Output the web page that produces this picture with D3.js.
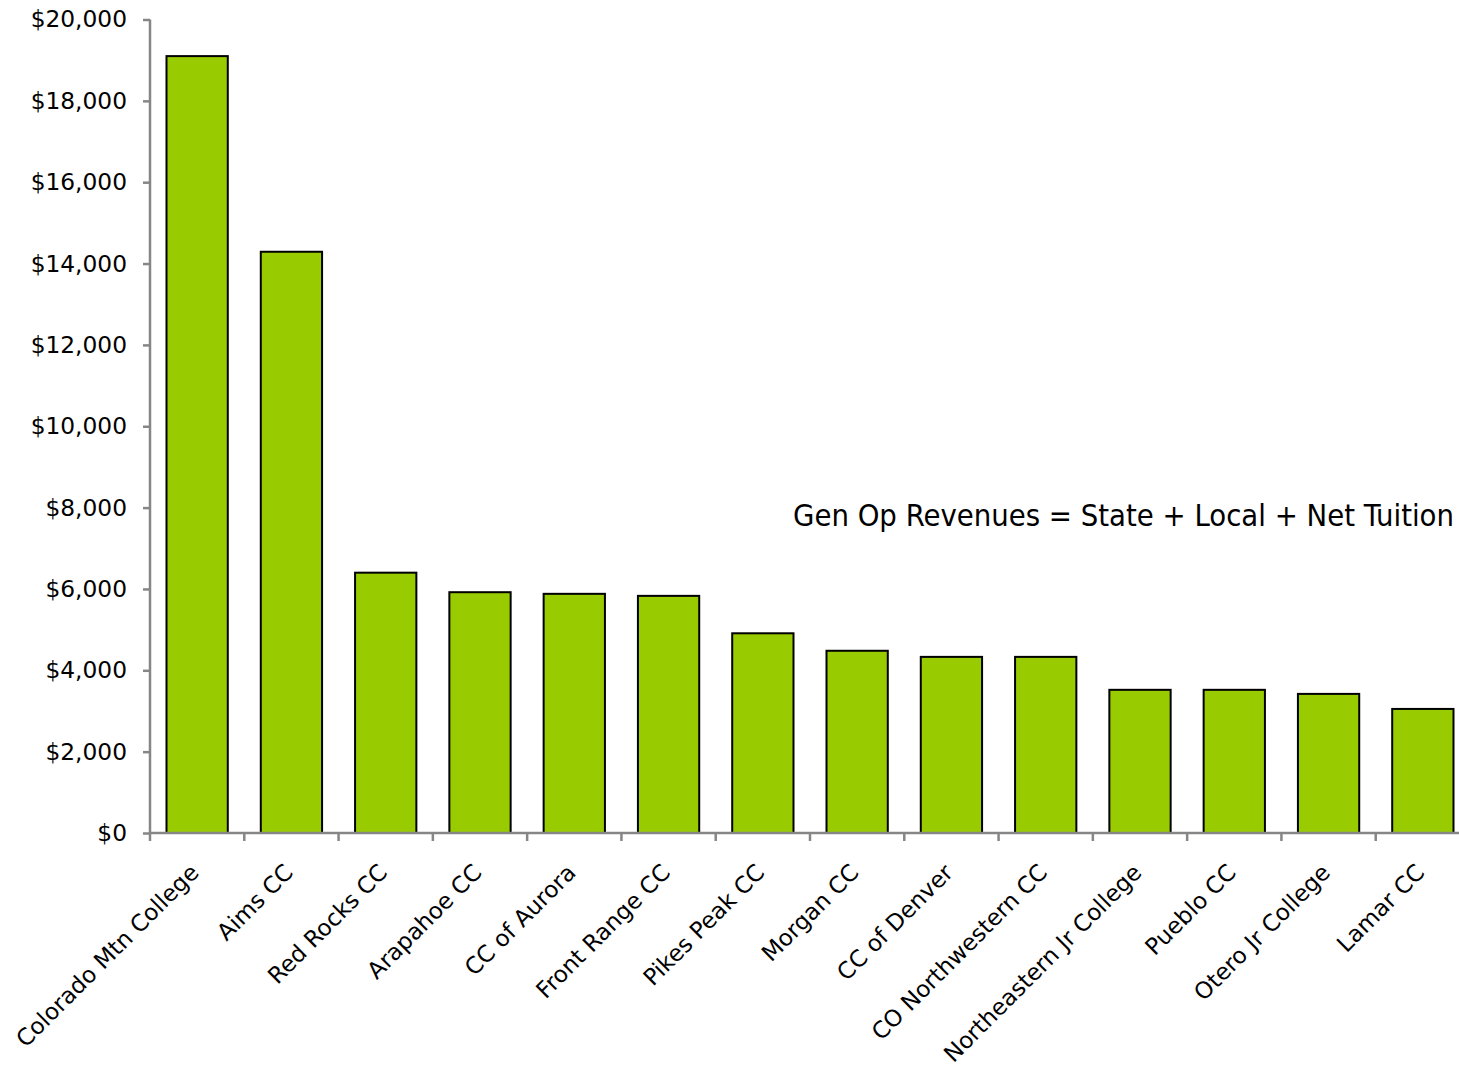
<!DOCTYPE html>
<html>
<head>
<meta charset="utf-8">
<script src="https://cdn.jsdelivr.net/npm/d3@7"></script>
<style>
  html, body { margin: 0; padding: 0; background: #fff; }
  svg { display: block; }
</style>
</head>
<body>
<svg id="chart" width="1459" height="1070"></svg>
<script>
const categories = ["Colorado Mtn College", "Aims CC", "Red Rocks CC", "Arapahoe CC", "CC of Aurora",
  "Front Range CC", "Pikes Peak CC", "Morgan CC", "CC of Denver", "CO Northwestern CC",
  "Northeastern Jr College", "Pueblo CC", "Otero Jr College", "Lamar CC"];
const revenues = [19100, 14290, 6400, 5920, 5880, 5830, 4910, 4480, 4330, 4330, 3520, 3520, 3420, 3050];
const yTicks = [0, 2000, 4000, 6000, 8000, 10000, 12000, 14000, 16000, 18000, 20000];
const annotation = "Gen Op Revenues = State + Local + Net Tuition";

const svg = d3.select("#chart");
const pLeft = 150, pRight = 1470, pTop = 19.5, pBottom = 833;
const axisColor = "#868686";
const labelFont = "'DejaVu Sans', sans-serif";

const x = d3.scaleBand().domain(categories).range([pLeft, pRight]).paddingInner(0.35).paddingOuter(0.175);
const y = d3.scaleLinear().domain([0, 20000]).range([pBottom, pTop]);

// bars
svg.append("g").selectAll("rect").data(categories).join("rect")
  .attr("x", d => x(d))
  .attr("y", (d, i) => y(revenues[i]))
  .attr("width", x.bandwidth())
  .attr("height", (d, i) => y(0) - y(revenues[i]))
  .attr("fill", "#99CC00")
  .attr("stroke", "#000")
  .attr("stroke-width", 2);

// y axis
const yAxis = svg.append("g").attr("transform", `translate(${pLeft},0)`)
  .call(d3.axisLeft(y).tickValues(yTicks).tickFormat(d3.format("$,")).tickSize(7).tickPadding(16));
yAxis.select(".domain").attr("stroke", axisColor).attr("stroke-width", 2.5).attr("d", `M0,${pTop}V${pBottom}`);
yAxis.selectAll(".tick line").attr("stroke", axisColor).attr("stroke-width", 2.5);
yAxis.selectAll(".tick text").attr("font-family", labelFont).attr("font-size", 23.3).attr("fill", "#000");

// x axis line and boundary ticks
const step = x.step();
const xa = svg.append("g");
xa.append("line").attr("x1", pLeft).attr("x2", pRight).attr("y1", pBottom).attr("y2", pBottom)
  .attr("stroke", axisColor).attr("stroke-width", 2.5);
xa.selectAll("line.tk").data(d3.range(categories.length + 1)).join("line")
  .attr("class", "tk")
  .attr("x1", i => pLeft + i * step).attr("x2", i => pLeft + i * step)
  .attr("y1", pBottom).attr("y2", pBottom + 8)
  .attr("stroke", axisColor).attr("stroke-width", 2.5);

// x labels rotated
xa.selectAll("text").data(categories).join("text")
  .attr("transform", d => `translate(${x(d) + x.bandwidth() / 2 + 3},${pBottom + 41}) rotate(-45)`)
  .attr("text-anchor", "end")
  .attr("font-family", labelFont)
  .attr("font-size", 23)
  .attr("fill", "#000")
  .text(d => d);

// annotation
svg.append("text")
  .attr("x", 1454).attr("y", 526)
  .attr("text-anchor", "end")
  .attr("font-family", "'Liberation Sans Narrow', 'DejaVu Sans Condensed', sans-serif")
  .attr("font-size", 30)
  .attr("fill", "#000")
  .attr("textLength", 661)
  .attr("lengthAdjust", "spacingAndGlyphs")
  .text(annotation);
</script>
</body>
</html>
